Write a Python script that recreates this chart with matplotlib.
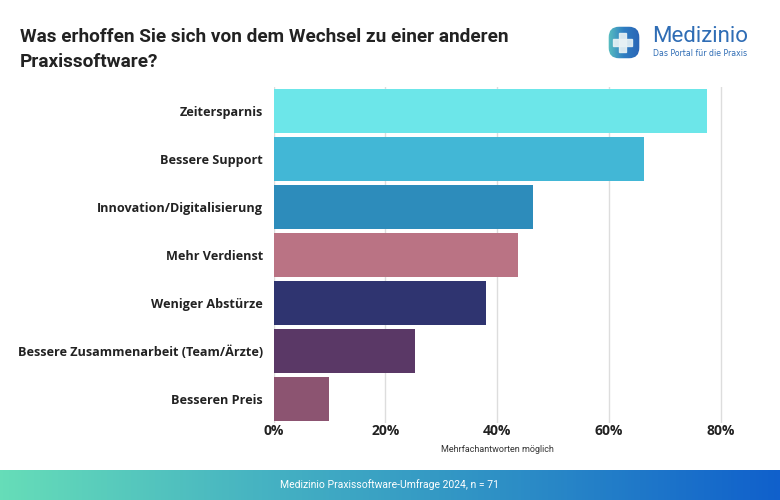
import matplotlib.pyplot as plt
import numpy as np
from matplotlib.patches import FancyBboxPatch, Rectangle
from matplotlib.colors import LinearSegmentedColormap

plt.rcParams["font.family"] = ["Roboto", "DejaVu Sans"]

categories = [
    "Zeitersparnis",
    "Bessere Support",
    "Innovation/Digitalisierung",
    "Mehr Verdienst",
    "Weniger Abstürze",
    "Bessere Zusammenarbeit (Team/Ärzte)",
    "Besseren Preis",
]
values = [77.5, 66.2, 46.5, 43.7, 38.0, 25.4, 9.9]
colors = ["#6CE6E9", "#42B7D6", "#2D8CBB", "#BA7384", "#2F3470", "#5A3866", "#8C5471"]
xticks = [0, 20, 40, 60, 80]
xtick_labels = ["0%", "20%", "40%", "60%", "80%"]

fig = plt.figure(figsize=(7.8, 5), dpi=100)
ax = fig.add_axes([273.5 / 780, 0.154, 84 * 5.59 / 780, 0.672])

y = np.arange(len(categories))
ax.barh(y, values, height=0.92, color=colors, zorder=2)
ax.set_ylim(len(categories) - 0.5, -0.5)
ax.set_xlim(0, 84)
ax.set_yticks(y)
ax.set_yticklabels(categories, fontsize=9.1, fontweight="bold", color="#222222",
                   family=["Open Sans", "DejaVu Sans"])
ax.set_xticks(xticks)
ax.set_xticklabels(xtick_labels, fontsize=10, fontweight="bold", color="#222222",
                   family=["Open Sans", "DejaVu Sans"])
ax.tick_params(axis="both", length=0)
ax.tick_params(axis="y", pad=7.5)
ax.tick_params(axis="x", pad=1)
ax.grid(axis="x", color="#DDDDDD", linewidth=1, zorder=0)
for s in ax.spines.values():
    s.set_visible(False)

fig.text(497 / 780, 1 - 449 / 500, "Mehrfachantworten möglich", fontsize=6.5,
         ha="center", va="center", color="#333333")

# title
fig.text(20 / 780, 1 - 37 / 500, "Was erhoffen Sie sich von dem Wechsel zu einer anderen",
         fontsize=13.7, fontweight="bold", color="#222222", va="center")
fig.text(20 / 780, 1 - 62 / 500, "Praxissoftware?",
         fontsize=13.7, fontweight="bold", color="#222222", va="center")

# footer gradient
fax = fig.add_axes([0, 0, 1, 30 / 500])
grad = np.linspace(0, 1, 256).reshape(1, -1)
cmap = LinearSegmentedColormap.from_list("foot", ["#66DDB8", "#46B3C2", "#2C8DC6", "#1060CC"])
fax.imshow(grad, aspect="auto", cmap=cmap, extent=[0, 1, 0, 1])
fax.set_axis_off()
fig.text(0.5, 15 / 500, "Medizinio Praxissoftware-Umfrage 2024, n = 71", fontsize=7.5,
         color="white", ha="center", va="center")

# logo
lax = fig.add_axes([607 / 780, 1 - 60 / 500, 34 / 780, 35 / 500])
lax.set_xlim(0, 1)
lax.set_ylim(0, 1)
lax.set_axis_off()
lcmap = LinearSegmentedColormap.from_list("logo", ["#5CC3C0", "#2E7DC2", "#2A63B5"])
im = lax.imshow(np.linspace(0, 1, 64).reshape(1, -1), aspect="auto", cmap=lcmap, extent=[0, 1, 0, 1])
shape = FancyBboxPatch((0.05, 0.05), 0.9, 0.9, boxstyle="round,pad=0,rounding_size=0.3",
                       transform=lax.transData, facecolor="none", edgecolor="none")
lax.add_patch(shape)
im.set_clip_path(shape)
lax.add_patch(Rectangle((0.18, 0.4), 0.55, 0.2, color="#E8F2F5", alpha=0.9))
lax.add_patch(Rectangle((0.355, 0.22), 0.2, 0.56, color="#E8F2F5", alpha=0.9))
fig.text(652 / 780, 1 - 37 / 500, "Medizinio", fontsize=16, color="#2F6DB5", va="center")
fig.text(653 / 780, 1 - 53 / 500, "Das Portal für die Praxis", fontsize=5.6, color="#2F6DB5",
         va="center", family=["DejaVu Sans"])

plt.savefig("out.png", dpi=100)
